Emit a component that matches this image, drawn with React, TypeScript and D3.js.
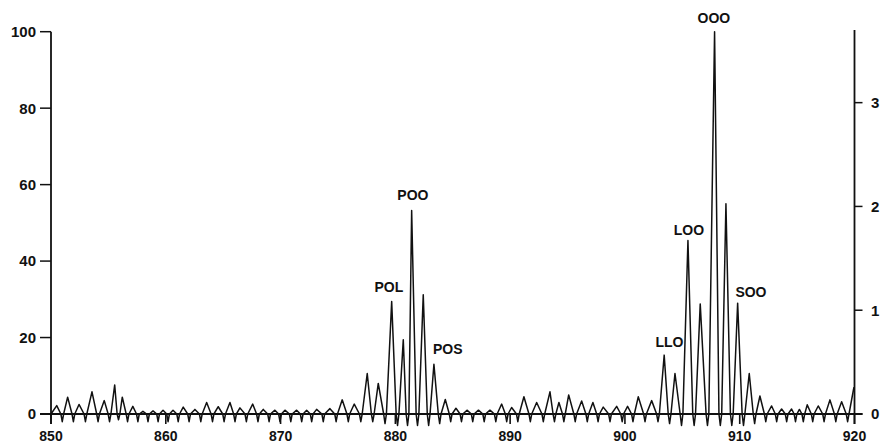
import React from "react";
import * as d3 from "d3";

// Mass spectrum of triacylglycerol adducts, m/z 850–920
const peaks: [number, number][] = [
  [850.5, 2.2], [851.45, 4.4], [852.44, 2.5], [853.57, 5.8], [854.64, 3.5],
  [855.55, 7.6], [856.21, 4.4], [857.13, 2.0], [858.01, 0.7], [858.89, 0.8],
  [859.76, 1.0], [860.63, 1.0], [861.52, 1.8], [862.54, 1.2], [863.56, 3.0],
  [864.57, 1.9], [865.59, 3.0], [866.46, 1.6], [867.57, 2.6], [868.49, 1.2],
  [869.51, 1.0], [870.38, 1.0], [871.4, 1.0], [872.27, 1.0], [873.14, 1.2],
  [874.3, 1.4], [875.37, 3.7], [876.42, 2.6], [877.55, 10.6], [878.51, 8.0],
  [879.68, 29.4], [880.69, 19.4], [881.42, 53.2], [882.43, 31.2], [883.36, 13.0],
  [884.35, 3.8], [885.28, 1.5], [886.24, 1.0], [887.24, 1.0], [888.24, 1.0],
  [889.26, 2.6], [890.13, 1.7], [891.2, 4.5], [892.31, 3.0], [893.47, 5.8],
  [894.25, 3.0], [895.1, 5.0], [896.23, 3.4], [897.21, 3.0], [898.11, 1.8],
  [899.28, 2.0], [900.23, 2.0], [901.16, 4.5], [902.33, 3.5], [903.42, 15.4],
  [904.36, 10.6], [905.49, 45.4], [906.56, 28.8], [907.81, 100], [908.8, 55],
  [909.82, 29], [910.83, 10.6], [911.76, 4.7], [912.78, 2.1], [913.65, 1.3],
  [914.52, 1.3], [915.2, 1.2], [915.88, 2.4], [916.84, 2.1], [917.86, 3.7],
  [918.88, 3.2], [919.95, 7.0],
];

// Valleys between peaks: the trace drops through the baseline in a short spike
const troughs: [number, number][] = [
  [850.98, -2], [851.95, -2], [853.0, -2], [854.1, -2], [855.1, -2],
  [855.88, -1.5], [856.67, -2], [857.57, -2], [858.45, -2], [859.33, -2],
  [860.2, -2], [861.08, -2], [862.03, -2], [863.05, -2], [864.07, -2],
  [865.08, -2], [866.03, -2], [867.02, -2], [868.03, -2], [869.0, -2],
  [869.95, -2], [870.89, -2], [871.84, -2], [872.71, -2], [873.72, -2],
  [874.84, -2], [875.9, -2], [876.99, -2], [878.03, -2], [879.1, -2.5],
  [880.19, -3], [881.06, -3], [881.93, -3], [882.9, -3], [883.86, -2.5],
  [884.82, -2], [885.76, -2], [886.74, -2], [887.74, -2], [888.75, -2],
  [889.7, -2], [890.67, -2], [891.76, -2], [892.89, -2], [893.86, -2],
  [894.68, -2], [895.67, -2], [896.72, -2], [897.66, -2], [898.7, -2],
  [899.76, -2], [900.7, -2], [901.75, -2], [902.88, -2], [903.89, -2.5],
  [904.93, -3], [906.03, -3], [907.19, -3], [908.31, -3], [909.31, -3],
  [910.33, -3], [911.3, -2.5], [912.27, -2], [913.22, -2], [914.09, -2],
  [914.86, -2], [915.54, -2], [916.36, -2], [917.35, -2], [918.37, -2],
  [919.4, -2],
];

const traceStart: [number, number] = [850.0, 0];

const peakLabels: { name: string; mz: number; y: number }[] = [
  { name: "POL", mz: 879.44, y: 33.2 },
  { name: "POO", mz: 881.53, y: 57.3 },
  { name: "POS", mz: 884.56, y: 17.0 },
  { name: "LLO", mz: 903.88, y: 18.9 },
  { name: "LOO", mz: 905.57, y: 48.1 },
  { name: "OOO", mz: 907.75, y: 103.6 },
  { name: "SOO", mz: 910.98, y: 31.9 },
];

const xTicks = [850, 860, 870, 880, 890, 900, 910, 920];
const leftTicks = [0, 20, 40, 60, 80, 100];
const rightTicks = [0, 1, 2, 3];

const W = 882;
const H = 444;
const FONT = "'Liberation Sans', Arial, Helvetica, sans-serif";
const INK = "#111";

export default function App() {
  const x = d3.scaleLinear().domain([850, 920]).range([51, 854.5]);
  const y = d3.scaleLinear().domain([0, 100]).range([414, 31.7]);
  const yRight = d3.scaleLinear().domain([0, 3.7]).range([414, 30]);

  // each valley is drawn as a narrow downward spike that leaves and rejoins the baseline
  const spikeHalf = 0.12;
  const valleyVertices: [number, number][] = troughs.flatMap(([m, v]) => [
    [m - spikeHalf, 0] as [number, number],
    [m, v] as [number, number],
    [m + spikeHalf, 0] as [number, number],
  ]);
  const trace = [traceStart, ...peaks, ...valleyVertices].sort((a, b) => a[0] - b[0]);

  const line = d3
    .line<[number, number]>()
    .x((d) => x(d[0]))
    .y((d) => y(d[1]))
    .curve(d3.curveLinear);

  const x0 = x(850);
  const x1 = x(920);
  const y0 = y(0);

  return (
    <svg
      width={W}
      height={H}
      style={{ position: "fixed", left: 0, top: 0, background: "#fff" }}
      fontFamily={FONT}
    >
      <rect width={W} height={H} fill="#fff" />

      {/* spectrum trace */}
      <path d={line(trace) ?? ""} fill="none" stroke={INK} strokeWidth={1.5} strokeLinejoin="round" />

      {/* baseline */}
      <line x1={x0 - 11} x2={x1 + 8} y1={y0} y2={y0} stroke={INK} strokeWidth={1.8} />

      {/* left axis */}
      <line x1={x0} x2={x0} y1={y(100)} y2={y0 + 10} stroke={INK} strokeWidth={1.8} />
      {leftTicks.map((t) => (
        <g key={`l${t}`}>
          <line x1={x0 - 11} x2={x0} y1={y(t)} y2={y(t)} stroke={INK} strokeWidth={1.5} />
          <text x={36} y={y(t)} dy="0.36em" textAnchor="end" fontSize={15} fontWeight="bold" fill={INK}>
            {t}
          </text>
        </g>
      ))}

      {/* right axis */}
      <line x1={x1} x2={x1} y1={yRight(3.7)} y2={y0 + 10} stroke={INK} strokeWidth={1.8} />
      {rightTicks.map((t) => (
        <g key={`r${t}`}>
          <line x1={x1} x2={x1 + 8} y1={yRight(t)} y2={yRight(t)} stroke={INK} strokeWidth={1.5} />
          <text x={871} y={yRight(t)} dy="0.36em" textAnchor="start" fontSize={15} fontWeight="bold" fill={INK}>
            {t}
          </text>
        </g>
      ))}

      {/* m/z axis */}
      {xTicks.map((t) => (
        <g key={`x${t}`}>
          <line x1={x(t)} x2={x(t)} y1={y0} y2={y0 + 10} stroke={INK} strokeWidth={1.6} />
          <text x={x(t)} y={441} textAnchor="middle" fontSize={14} fontWeight="bold" fill={INK}>
            {t}
          </text>
        </g>
      ))}

      {/* peak assignments */}
      {peakLabels.map((l) => (
        <text
          key={l.name}
          x={x(l.mz)}
          y={y(l.y)}
          dy="0.36em"
          textAnchor="middle"
          fontSize={14}
          fontWeight="bold"
          fill={INK}
        >
          {l.name}
        </text>
      ))}
    </svg>
  );
}
